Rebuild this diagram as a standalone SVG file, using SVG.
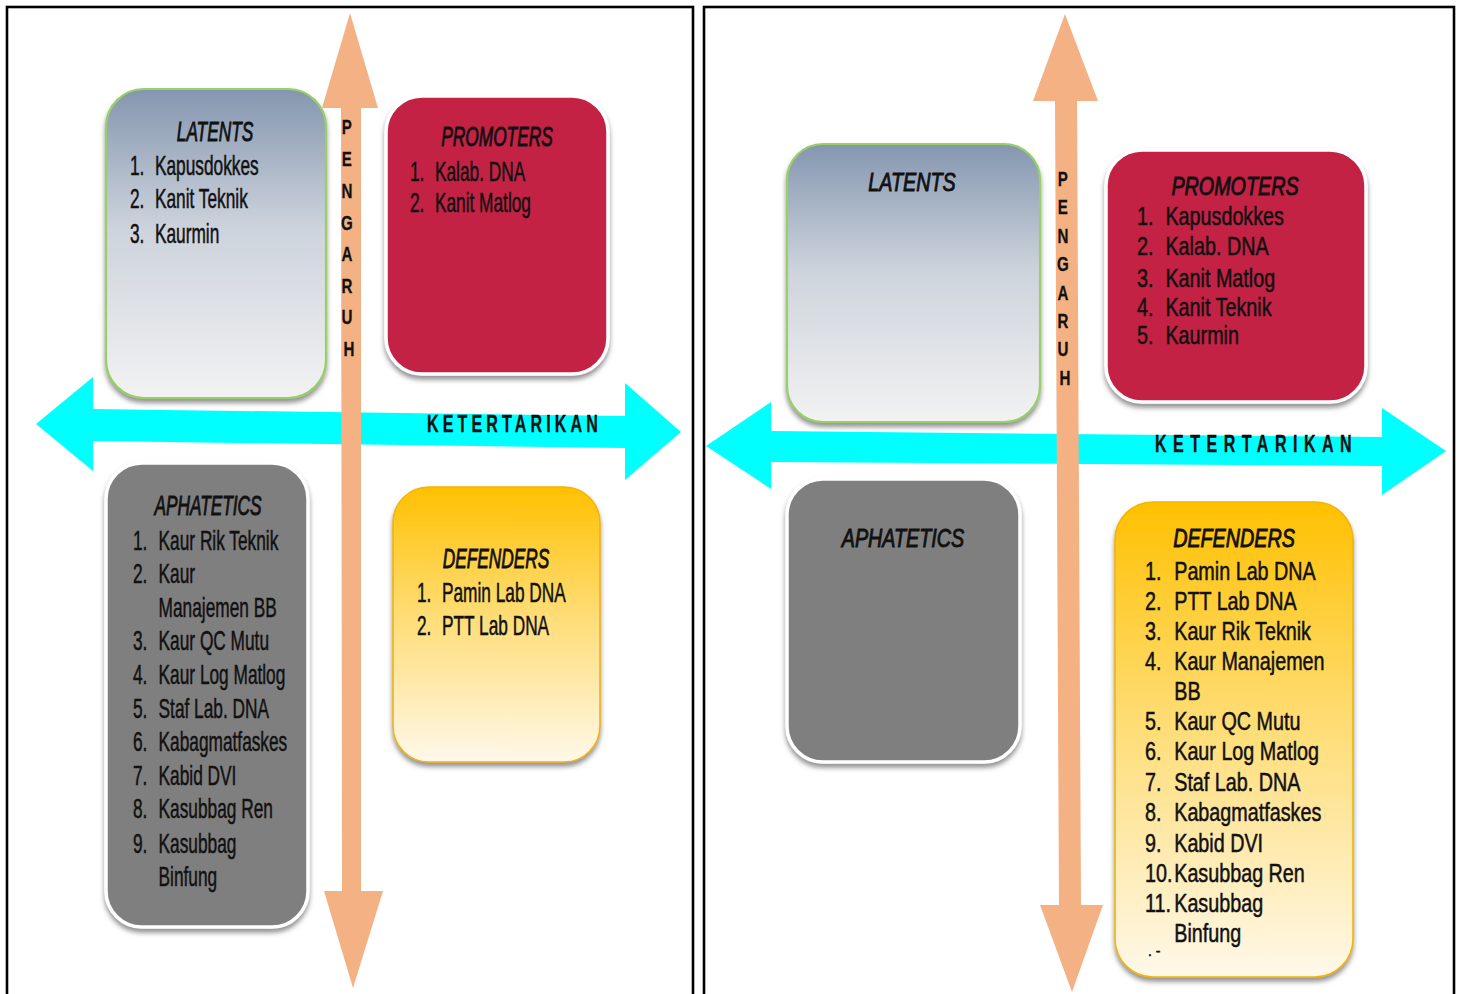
<svg xmlns="http://www.w3.org/2000/svg" width="1462" height="994" viewBox="0 0 1462 994">
  <defs>
    <linearGradient id="gLatent" x1="0" y1="0" x2="0" y2="1">
      <stop offset="0" stop-color="#8496AF"/>
      <stop offset="0.45" stop-color="#CDD3DC"/>
      <stop offset="1" stop-color="#F2F2F2"/>
    </linearGradient>
    <linearGradient id="gDefend" x1="0" y1="0" x2="0" y2="1">
      <stop offset="0" stop-color="#FFC000"/>
      <stop offset="0.4" stop-color="#FFD966"/>
      <stop offset="1" stop-color="#FFF8EA"/>
    </linearGradient>
    <filter id="shadow" x="-10%" y="-10%" width="120%" height="125%">
      <feDropShadow dx="0" dy="4" stdDeviation="2.5" flood-color="#6E6E6E" flood-opacity="0.75"/>
    </filter>
    <style>
      .frame { fill: #FFFFFF; stroke: #000000; stroke-width: 2.6; }
      .axisH { fill: #00FFFF; }
      .axisV { fill: #F4B183; }
      .latent { fill: url(#gLatent); stroke: #98D067; stroke-width: 2.2; filter: url(#shadow); }
      .promoter { fill: #C32044; stroke: #FFFFFF; stroke-width: 3.5; filter: url(#shadow); }
      .apathetic { fill: #7F7F7F; stroke: #FFFFFF; stroke-width: 3.5; filter: url(#shadow); }
      .defender { fill: url(#gDefend); stroke: #F2B500; stroke-width: 1.6; filter: url(#shadow); }
      text { font-family: "Liberation Sans", Arial, sans-serif; fill: #111111; stroke: #111111; stroke-width: 0.5; }
      .tl { font-size: 27px; }
      .tr { font-size: 25px; }
      .ttl { font-style: italic; text-anchor: middle; stroke-width: 0.9; }
      .axisLbl { font-weight: bold; font-size: 23px; stroke-width: 0.3; }
      .vert { font-weight: bold; text-anchor: middle; stroke-width: 0.3; }
    </style>
  </defs>

  <!-- panel frames -->
  <rect class="frame" x="7" y="7" width="686" height="1000"/>
  <rect class="frame" x="704" y="7" width="750" height="1000"/>

  <!-- ===== left panel ===== -->
  <g id="left-latents">
    <rect class="latent" x="106" y="89" width="220" height="309" rx="38"/>
    <text class="tl ttl" transform="translate(215 141) scale(0.64 1)">LATENTS</text>
    <text class="tl" transform="translate(130 175) scale(0.64 1)">
      <tspan x="0" y="0">1.</tspan><tspan x="39" y="0">Kapusdokkes</tspan>
      <tspan x="0" y="33">2.</tspan><tspan x="39" y="33">Kanit Teknik</tspan>
      <tspan x="0" y="68">3.</tspan><tspan x="39" y="68">Kaurmin</tspan>
    </text>
  </g>

  <g id="left-promoters">
    <rect class="promoter" x="386" y="96" width="222" height="278" rx="36"/>
    <text class="tl ttl" transform="translate(497 146) scale(0.64 1)">PROMOTERS</text>
    <text class="tl" transform="translate(410 181) scale(0.64 1)">
      <tspan x="0" y="0">1.</tspan><tspan x="39" y="0">Kalab. DNA</tspan>
      <tspan x="0" y="31">2.</tspan><tspan x="39" y="31">Kanit Matlog</tspan>
    </text>
  </g>

  <g id="left-aphatetics">
    <rect class="apathetic" x="106" y="463" width="202" height="464" rx="36"/>
    <text class="tl ttl" transform="translate(208 515) scale(0.64 1)">APHATETICS</text>
    <text class="tl" transform="translate(133 550) scale(0.64 1)">
      <tspan x="0" y="0">1.</tspan><tspan x="40" y="0">Kaur Rik Teknik</tspan>
      <tspan x="0" y="33">2.</tspan><tspan x="40" y="33">Kaur</tspan>
      <tspan x="40" y="67">Manajemen BB</tspan>
      <tspan x="0" y="100">3.</tspan><tspan x="40" y="100">Kaur QC Mutu</tspan>
      <tspan x="0" y="134">4.</tspan><tspan x="40" y="134">Kaur Log Matlog</tspan>
      <tspan x="0" y="168">5.</tspan><tspan x="40" y="168">Staf Lab. DNA</tspan>
      <tspan x="0" y="201">6.</tspan><tspan x="40" y="201">Kabagmatfaskes</tspan>
      <tspan x="0" y="235">7.</tspan><tspan x="40" y="235">Kabid DVI</tspan>
      <tspan x="0" y="268">8.</tspan><tspan x="40" y="268">Kasubbag Ren</tspan>
      <tspan x="0" y="303">9.</tspan><tspan x="40" y="303">Kasubbag</tspan>
      <tspan x="40" y="336">Binfung</tspan>
    </text>
  </g>

  <g id="left-defenders">
    <rect class="defender" x="393" y="487" width="207" height="275" rx="36"/>
    <text class="tl ttl" transform="translate(496 568) scale(0.64 1)">DEFENDERS</text>
    <text class="tl" transform="translate(417 602) scale(0.64 1)">
      <tspan x="0" y="0">1.</tspan><tspan x="39" y="0">Pamin Lab DNA</tspan>
      <tspan x="0" y="33">2.</tspan><tspan x="39" y="33">PTT Lab DNA</tspan>
    </text>
  </g>

  <!-- ===== right panel ===== -->
  <g id="right-latents">
    <rect class="latent" x="787" y="144" width="253" height="278" rx="36"/>
    <text class="tr ttl" transform="translate(912 191) scale(0.79 1)">LATENTS</text>
  </g>

  <g id="right-promoters">
    <rect class="promoter" x="1106" y="150" width="260" height="252" rx="36"/>
    <text class="tr ttl" transform="translate(1235 195) scale(0.79 1)">PROMOTERS</text>
    <text class="tr" transform="translate(1137 225) scale(0.79 1)">
      <tspan x="0" y="0">1.</tspan><tspan x="36" y="0">Kapusdokkes</tspan>
      <tspan x="0" y="30">2.</tspan><tspan x="36" y="30">Kalab. DNA</tspan>
      <tspan x="0" y="62">3.</tspan><tspan x="36" y="62">Kanit Matlog</tspan>
      <tspan x="0" y="91">4.</tspan><tspan x="36" y="91">Kanit Teknik</tspan>
      <tspan x="0" y="119">5.</tspan><tspan x="36" y="119">Kaurmin</tspan>
    </text>
  </g>

  <g id="right-aphatetics">
    <rect class="apathetic" x="787" y="479" width="233" height="283" rx="36"/>
    <text class="tr ttl" transform="translate(903 547) scale(0.79 1)">APHATETICS</text>
  </g>

  <g id="right-defenders">
    <rect class="defender" x="1115" y="502" width="238" height="475" rx="38"/>
    <text class="tr ttl" transform="translate(1234 547) scale(0.79 1)">DEFENDERS</text>
    <text class="tr" transform="translate(1145 580) scale(0.79 1)">
      <tspan x="0" y="0">1.</tspan><tspan x="37" y="0">Pamin Lab DNA</tspan>
      <tspan x="0" y="30">2.</tspan><tspan x="37" y="30">PTT Lab DNA</tspan>
      <tspan x="0" y="60">3.</tspan><tspan x="37" y="60">Kaur Rik Teknik</tspan>
      <tspan x="0" y="90">4.</tspan><tspan x="37" y="90">Kaur Manajemen</tspan>
      <tspan x="37" y="120">BB</tspan>
      <tspan x="0" y="150">5.</tspan><tspan x="37" y="150">Kaur QC Mutu</tspan>
      <tspan x="0" y="180">6.</tspan><tspan x="37" y="180">Kaur Log Matlog</tspan>
      <tspan x="0" y="211">7.</tspan><tspan x="37" y="211">Staf Lab. DNA</tspan>
      <tspan x="0" y="241">8.</tspan><tspan x="37" y="241">Kabagmatfaskes</tspan>
      <tspan x="0" y="272">9.</tspan><tspan x="37" y="272">Kabid DVI</tspan>
      <tspan x="0" y="302">10.</tspan><tspan x="37" y="302">Kasubbag Ren</tspan>
      <tspan x="0" y="332">11.</tspan><tspan x="37" y="332">Kasubbag</tspan>
      <tspan x="37" y="362">Binfung</tspan>
    </text>
    <text x="1148" y="956" font-size="14px">. -</text>
  </g>

  <!-- axes: interest (horizontal) and influence (vertical) -->
  <g id="axes">
    <polygon class="axisH" points="36,424 93,377 93,409 625,416 625,383 681,432 625,480 625,448 93,441 93,471"/>
    <polygon class="axisH" points="706,446 771,402 771,431 1382,437 1382,408 1446,451 1382,495 1382,466 771,462 771,489"/>
    <polygon class="axisV" points="350,13 378,108 361,108 361,891 383,891 353,988 324,891 342,891 341,108 322,108"/>
    <polygon class="axisV" points="1065,14 1098,101 1077,101 1081,905 1103,905 1072,992 1040,905 1059,905 1055,101 1033,101"/>

    <text class="axisLbl" transform="translate(427 432) scale(0.7 1)" textLength="244" lengthAdjust="spacing">KETERTARIKAN</text>
    <text class="axisLbl" transform="translate(1155 452) scale(0.7 1)" textLength="281" lengthAdjust="spacing">KETERTARIKAN</text>

    <text class="vert" font-size="21px" transform="translate(349 0) scale(0.72 1)">
      <tspan x="0" y="134">P</tspan>
      <tspan x="0" y="166">E</tspan>
      <tspan x="0" y="198">N</tspan>
      <tspan x="0" y="230">G</tspan>
      <tspan x="0" y="261">A</tspan>
      <tspan x="0" y="293">R</tspan>
      <tspan x="0" y="324">U</tspan>
      <tspan x="0" y="356">H</tspan>
    </text>
    <text class="vert" font-size="21px" transform="translate(1065 0) scale(0.72 1)">
      <tspan x="0" y="186">P</tspan>
      <tspan x="0" y="214">E</tspan>
      <tspan x="0" y="243">N</tspan>
      <tspan x="0" y="271">G</tspan>
      <tspan x="0" y="300">A</tspan>
      <tspan x="0" y="328">R</tspan>
      <tspan x="0" y="356">U</tspan>
      <tspan x="0" y="385">H</tspan>
    </text>
  </g>
</svg>
